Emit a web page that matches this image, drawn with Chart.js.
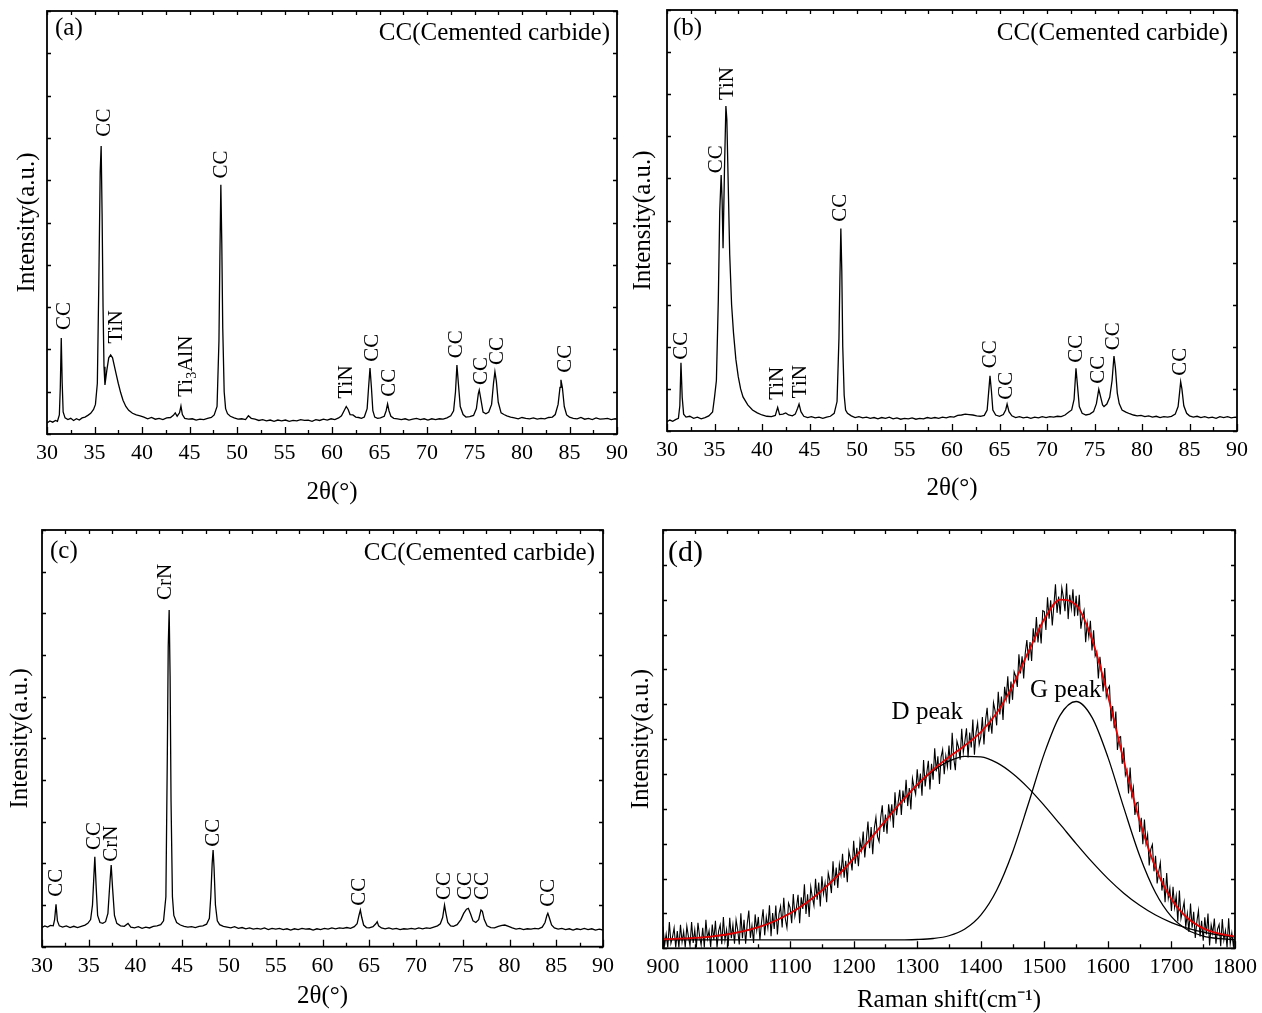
<!DOCTYPE html>
<html>
<head>
<meta charset="utf-8">
<script src="https://cdn.jsdelivr.net/npm/chart.js@4.4.1/dist/chart.umd.min.js"></script>
<style>
  html, body { margin: 0; padding: 0; background: #fff; overflow: hidden; }
  .panel { position: absolute; }
</style>
</head>
<body>
<div class="panel" style="left:0;top:0"><canvas id="chart-a" width="631" height="510"></canvas></div>
<div class="panel" style="left:631px;top:0"><canvas id="chart-b" width="631" height="510"></canvas></div>
<div class="panel" style="left:0;top:510px"><canvas id="chart-c" width="631" height="503"></canvas></div>
<div class="panel" style="left:631px;top:510px"><canvas id="chart-d" width="631" height="503"></canvas></div>
<script>
var serif = '"Liberation Serif", "Times New Roman", serif';

// XRD pattern (a): [2theta, intensity a.u.]
var patternA = [
    [30.0, 2.6], [30.3, 3.1], [30.6, 2.8], [30.9, 3.2], [31.1, 3.0], [31.3, 4.5], [31.4, 11.0], [31.5, 22.7],
    [31.6, 12.0], [31.7, 5.2], [31.9, 3.8], [32.2, 3.4], [32.5, 3.7], [32.8, 3.2], [33.1, 3.6], [33.4, 3.3],
    [33.7, 3.8], [34.0, 4.0], [34.3, 4.4], [34.6, 4.9], [34.9, 5.8], [35.1, 7.0], [35.3, 12.0], [35.45, 35.0],
    [35.6, 62.0], [35.7, 68.1], [35.8, 52.0], [35.9, 30.0], [36.0, 15.9], [36.1, 11.6], [36.3, 15.1], [36.5, 18.0],
    [36.7, 18.7], [36.9, 18.0], [37.1, 16.0], [37.3, 14.0], [37.5, 12.0], [37.75, 9.8], [38.0, 8.0], [38.3, 6.5],
    [38.6, 5.6], [39.0, 4.9], [39.4, 4.5], [39.8, 4.3], [40.2, 4.0], [40.6, 3.6], [41.0, 3.9], [41.4, 3.5],
    [41.8, 3.7], [42.2, 3.4], [42.6, 3.8], [43.0, 3.9], [43.3, 4.4], [43.5, 5.0], [43.7, 4.2], [43.95, 5.0],
    [44.1, 6.6], [44.25, 4.6], [44.5, 3.7], [44.9, 3.5], [45.3, 3.6], [45.7, 3.3], [46.1, 3.5], [46.5, 3.4],
    [46.9, 3.7], [47.3, 3.9], [47.6, 4.5], [47.9, 6.5], [48.1, 22.0], [48.2, 42.0], [48.3, 58.9], [48.4, 45.0],
    [48.5, 25.0], [48.65, 10.0], [48.8, 6.0], [49.0, 4.8], [49.3, 4.2], [49.7, 3.8], [50.1, 3.5], [50.5, 3.6],
    [50.9, 3.4], [51.2, 4.3], [51.5, 3.7], [51.9, 3.5], [52.3, 3.2], [52.7, 3.4], [53.1, 3.1], [53.5, 3.3],
    [53.9, 3.0], [54.3, 3.3], [54.7, 3.1], [55.1, 3.3], [55.5, 3.0], [55.9, 3.2], [56.3, 3.1], [56.7, 3.4],
    [57.1, 3.2], [57.5, 3.3], [57.9, 3.0], [58.3, 3.4], [58.7, 3.2], [59.1, 3.5], [59.5, 3.3], [59.9, 3.6],
    [60.3, 3.4], [60.7, 3.8], [61.0, 4.3], [61.3, 5.6], [61.5, 6.5], [61.7, 5.8], [61.9, 4.6], [62.2, 4.5],
    [62.5, 4.0], [62.8, 3.9], [63.1, 3.7], [63.4, 4.0], [63.7, 6.0], [63.85, 11.0], [64.0, 15.6], [64.15, 11.0],
    [64.3, 5.5], [64.5, 4.0], [64.8, 3.7], [65.1, 3.8], [65.5, 4.2], [65.7, 5.5], [65.85, 7.1], [66.0, 5.5],
    [66.2, 4.2], [66.5, 3.7], [66.9, 3.6], [67.3, 3.4], [67.7, 3.6], [68.1, 3.3], [68.5, 3.5], [68.9, 3.7],
    [69.3, 3.4], [69.7, 3.6], [70.1, 3.3], [70.5, 3.6], [70.9, 3.4], [71.3, 3.6], [71.7, 3.5], [72.1, 3.8],
    [72.5, 4.3], [72.8, 5.5], [73.0, 10.0], [73.15, 16.3], [73.3, 12.0], [73.5, 6.5], [73.8, 4.6], [74.1, 4.0],
    [74.5, 4.1], [74.9, 4.4], [75.2, 6.0], [75.4, 9.5], [75.5, 10.4], [75.65, 8.5], [75.9, 5.2], [76.2, 4.8],
    [76.5, 5.2], [76.8, 7.0], [77.0, 12.0], [77.15, 14.7], [77.3, 12.5], [77.5, 7.5], [77.8, 5.0], [78.1, 4.6],
    [78.4, 4.3], [78.8, 4.0], [79.2, 3.8], [79.6, 3.6], [80.0, 3.9], [80.4, 3.7], [80.8, 3.6], [81.2, 3.8],
    [81.6, 3.5], [82.0, 3.7], [82.4, 3.6], [82.8, 3.9], [83.2, 4.0], [83.5, 4.6], [83.8, 7.0], [84.0, 11.0],
    [84.1, 12.8], [84.25, 11.0], [84.45, 6.5], [84.7, 4.5], [85.0, 4.0], [85.4, 3.7], [85.8, 3.6], [86.2, 3.9],
    [86.6, 3.5], [87.0, 3.7], [87.4, 3.4], [87.8, 3.8], [88.2, 3.5], [88.6, 3.6], [89.0, 3.7], [89.4, 3.4],
    [89.8, 3.6], [90.0, 3.5]
];
// peak labels: [text, 2theta, intensity where the text starts]
var labelsA = [
    ['CC', 31.89, 24.6], ['CC', 36.1, 70.3], ['TiN', 37.34, 21.4], ['Ti_3AlN', 44.63, 8.8],
    ['CC', 48.39, 60.4], ['TiN', 61.55, 8.4], ['CC', 64.28, 17.1], ['CC', 66.1, 8.8],
    ['CC', 73.13, 17.9], ['CC', 75.76, 11.6], ['CC', 77.4, 16.3], ['CC', 84.53, 14.5]
];

// XRD pattern (b)
var patternB = [
    [30.0, 2.2], [30.3, 2.6], [30.6, 2.3], [30.9, 2.7], [31.2, 3.0], [31.35, 6.0], [31.47, 16.2], [31.6, 8.0],
    [31.75, 4.0], [32.0, 3.3], [32.4, 3.5], [32.8, 3.0], [33.2, 3.3], [33.6, 2.9], [34.0, 3.2], [34.4, 3.6],
    [34.8, 4.5], [35.0, 8.0], [35.2, 12.0], [35.4, 31.0], [35.55, 52.0], [35.7, 60.8], [35.8, 55.0], [35.9, 43.4],
    [36.05, 62.0], [36.2, 77.2], [36.3, 74.0], [36.45, 58.0], [36.6, 42.0], [36.8, 30.0], [37.0, 23.3], [37.25, 17.0],
    [37.5, 12.9], [37.75, 10.0], [38.0, 8.1], [38.5, 6.2], [39.0, 5.0], [39.5, 4.3], [40.0, 3.8], [40.5, 3.5],
    [41.0, 3.4], [41.4, 3.7], [41.65, 5.6], [41.85, 3.9], [42.2, 4.0], [42.5, 4.3], [42.8, 3.8], [43.2, 3.6],
    [43.5, 4.0], [43.75, 5.4], [43.9, 6.4], [44.1, 4.6], [44.4, 3.5], [44.8, 3.2], [45.2, 3.4], [45.6, 3.1],
    [46.0, 3.3], [46.4, 3.0], [46.8, 3.3], [47.2, 3.5], [47.6, 4.2], [47.9, 7.0], [48.1, 22.0], [48.2, 36.0],
    [48.3, 48.1], [48.4, 38.0], [48.5, 20.0], [48.65, 8.5], [48.8, 5.0], [49.0, 4.2], [49.4, 3.6], [49.8, 3.2],
    [50.2, 3.4], [50.6, 3.1], [51.0, 3.3], [51.4, 3.0], [51.8, 3.2], [52.2, 2.9], [52.6, 3.2], [53.0, 3.0],
    [53.4, 3.3], [53.8, 2.9], [54.2, 3.1], [54.6, 2.8], [55.0, 3.0], [55.4, 2.9], [55.8, 3.1], [56.2, 2.8],
    [56.6, 3.0], [57.0, 2.9], [57.4, 3.2], [57.8, 3.0], [58.2, 3.2], [58.6, 3.0], [59.0, 3.3], [59.4, 3.1],
    [59.8, 3.4], [60.2, 3.3], [60.6, 3.7], [61.0, 3.8], [61.4, 4.0], [61.8, 3.9], [62.2, 3.8], [62.6, 3.6],
    [63.0, 3.5], [63.4, 3.7], [63.7, 5.0], [63.85, 9.0], [64.0, 13.1], [64.15, 9.5], [64.3, 5.0], [64.6, 3.8],
    [65.0, 3.5], [65.4, 3.9], [65.65, 5.0], [65.8, 6.4], [66.0, 4.6], [66.3, 3.6], [66.7, 3.2], [67.1, 3.4],
    [67.5, 3.1], [67.9, 3.3], [68.3, 3.0], [68.7, 3.3], [69.1, 3.1], [69.5, 3.4], [69.9, 3.2], [70.3, 3.4],
    [70.7, 3.3], [71.1, 3.5], [71.5, 3.4], [71.9, 3.8], [72.3, 4.5], [72.6, 5.0], [72.85, 7.5], [73.05, 14.9],
    [73.2, 11.0], [73.4, 5.8], [73.7, 4.2], [74.1, 3.8], [74.5, 4.0], [74.9, 4.6], [75.2, 6.5], [75.45, 9.9],
    [75.6, 8.5], [75.85, 6.2], [76.0, 5.8], [76.3, 6.4], [76.6, 8.0], [76.85, 12.0], [77.05, 17.8], [77.2, 15.0],
    [77.4, 9.0], [77.6, 6.5], [77.9, 5.0], [78.3, 4.5], [78.7, 4.1], [79.1, 3.8], [79.5, 3.6], [79.9, 3.7],
    [80.3, 3.4], [80.7, 3.6], [81.1, 3.3], [81.5, 3.5], [81.9, 3.2], [82.3, 3.4], [82.7, 3.3], [83.1, 3.5],
    [83.5, 4.0], [83.8, 5.8], [83.95, 9.0], [84.07, 11.7], [84.2, 10.0], [84.4, 6.0], [84.7, 4.2], [85.0, 3.6],
    [85.4, 3.3], [85.8, 3.5], [86.2, 3.2], [86.6, 3.4], [87.0, 3.1], [87.4, 3.3], [87.8, 3.0], [88.2, 3.4],
    [88.6, 3.2], [89.0, 3.4], [89.4, 3.1], [89.8, 3.3], [90.0, 3.2]
];
var labelsB = [
    ['CC', 31.55, 16.9], ['CC', 35.23, 61.2], ['TiN', 36.35, 78.6], ['TiN', 41.61, 7.4],
    ['TiN', 44.1, 7.8], ['CC', 48.28, 49.7], ['CC', 64.0, 14.9], ['CC', 65.76, 7.4],
    ['CC', 73.13, 16.2], ['CC', 75.4, 11.2], ['CC', 76.98, 19.2], ['CC', 84.07, 13.1]
];

// XRD pattern (c)
var patternC = [
    [30.0, 4.6], [30.3, 5.0], [30.6, 4.7], [30.9, 5.1], [31.2, 5.0], [31.35, 6.5], [31.5, 10.2], [31.65, 6.2],
    [31.85, 5.0], [32.2, 4.7], [32.6, 5.0], [33.0, 4.6], [33.4, 4.9], [33.8, 4.6], [34.2, 4.9], [34.6, 5.2],
    [34.9, 5.6], [35.2, 6.5], [35.4, 10.0], [35.55, 17.0], [35.65, 21.6], [35.8, 14.0], [35.95, 7.5], [36.2, 5.8],
    [36.5, 5.6], [36.8, 6.0], [37.05, 8.0], [37.25, 15.0], [37.4, 19.6], [37.55, 14.0], [37.75, 7.5], [38.0, 5.6],
    [38.4, 5.0], [38.8, 4.9], [39.2, 5.6], [39.5, 4.7], [39.9, 4.5], [40.3, 4.8], [40.7, 4.4], [41.1, 4.7],
    [41.5, 4.5], [41.9, 4.9], [42.3, 5.0], [42.7, 5.3], [43.0, 6.2], [43.25, 12.0], [43.4, 45.0], [43.5, 72.0],
    [43.6, 80.8], [43.7, 65.0], [43.8, 35.0], [43.95, 12.0], [44.1, 7.5], [44.4, 5.8], [44.8, 5.2], [45.2, 4.9],
    [45.6, 4.7], [46.0, 4.8], [46.4, 4.6], [46.8, 4.9], [47.2, 5.0], [47.6, 5.4], [47.9, 6.8], [48.05, 12.0],
    [48.2, 20.0], [48.3, 23.2], [48.4, 19.0], [48.55, 10.0], [48.75, 6.2], [49.0, 5.3], [49.4, 4.9], [49.8, 4.7],
    [50.2, 4.5], [50.6, 4.8], [51.0, 4.4], [51.4, 4.6], [51.8, 4.3], [52.2, 4.5], [52.6, 4.2], [53.0, 4.4],
    [53.4, 4.2], [53.8, 4.5], [54.2, 4.1], [54.6, 4.4], [55.0, 4.2], [55.4, 4.4], [55.8, 4.1], [56.2, 4.3],
    [56.6, 4.0], [57.0, 4.3], [57.4, 4.1], [57.8, 4.4], [58.2, 4.2], [58.6, 4.3], [59.0, 4.0], [59.4, 4.3],
    [59.8, 4.1], [60.2, 4.4], [60.6, 4.2], [61.0, 4.5], [61.4, 4.3], [61.8, 4.5], [62.2, 4.4], [62.6, 4.6],
    [63.0, 4.4], [63.4, 4.8], [63.7, 5.5], [63.9, 7.5], [64.05, 8.8], [64.2, 7.0], [64.4, 5.2], [64.7, 4.6],
    [65.0, 4.5], [65.4, 4.8], [65.7, 5.5], [65.85, 6.0], [66.0, 5.0], [66.3, 4.5], [66.7, 4.3], [67.1, 4.5],
    [67.5, 4.2], [67.9, 4.4], [68.3, 4.1], [68.7, 4.3], [69.1, 4.2], [69.5, 4.4], [69.9, 4.2], [70.3, 4.5],
    [70.7, 4.3], [71.1, 4.5], [71.5, 4.4], [71.9, 4.7], [72.3, 5.0], [72.6, 5.5], [72.85, 7.0], [73.05, 10.0],
    [73.2, 8.0], [73.4, 5.8], [73.7, 5.0], [74.0, 4.9], [74.4, 5.3], [74.8, 6.5], [75.1, 8.0], [75.4, 9.0],
    [75.6, 9.2], [75.85, 7.8], [76.1, 6.2], [76.4, 5.8], [76.7, 6.5], [76.95, 8.8], [77.1, 8.5], [77.3, 6.5],
    [77.6, 5.0], [78.0, 4.6], [78.4, 4.5], [78.8, 4.9], [79.2, 5.1], [79.5, 5.2], [79.9, 4.9], [80.3, 4.5],
    [80.7, 4.2], [81.1, 4.4], [81.5, 4.1], [81.9, 4.3], [82.3, 4.2], [82.7, 4.4], [83.1, 4.3], [83.5, 4.7],
    [83.8, 5.8], [84.0, 7.5], [84.1, 8.0], [84.25, 7.0], [84.5, 5.2], [84.8, 4.5], [85.2, 4.2], [85.6, 4.4],
    [86.0, 4.1], [86.4, 4.3], [86.8, 4.0], [87.2, 4.3], [87.6, 4.1], [88.0, 4.4], [88.4, 4.1], [88.8, 4.3],
    [89.2, 4.0], [89.6, 4.2], [90.0, 4.0]
];
var labelsC = [
    ['CC', 31.53, 12.0], ['CC', 35.59, 23.2], ['CrN', 37.41, 20.4], ['CrN', 43.26, 83.2],
    ['CC', 48.29, 24.0], ['CC', 63.97, 9.8], ['CC', 73.06, 11.2], ['CC', 75.27, 11.2],
    ['CC', 77.06, 11.2], ['CC', 84.18, 9.6]
];

// Raman spectrum (d): measured counts every 2.5 cm-1 from 900 (one row = 25 cm-1)
var ramanStart = 900;
var ramanStep = 2.5;
var ramanCounts = [
    5.2, 0.7, 3.4, 0.2, 6.3, 1.2, 2.7, 4.9, 0.2, 4.1,
    0.2, 5.6, 1.5, 4.0, 0.2, 5.3, 2.8, 0.6, 6.3, 1.3,
    4.4, 0.2, 6.1, 2.9, 0.8, 4.9, 0.2, 6.8, 2.3, 4.2,
    0.3, 5.7, 2.0, 6.6, 0.2, 4.1, 5.6, 1.0, 7.5, 1.9,
    4.5, 0.5, 7.3, 2.4, 5.6, 1.1, 6.8, 4.4, 0.9, 8.4,
    2.4, 6.8, 1.1, 5.8, 9.0, 2.5, 5.4, 1.3, 8.1, 4.3,
    7.5, 2.0, 6.2, 9.3, 3.1, 7.5, 4.9, 10.3, 2.9, 8.4,
    4.6, 10.2, 3.3, 8.2, 10.0, 5.0, 12.1, 7.0, 4.9, 10.8,
    9.7, 6.0, 13.0, 7.7, 9.8, 12.8, 6.0, 12.2, 9.4, 15.3,
    8.2, 12.9, 7.5, 14.7, 12.2, 10.2, 16.6, 11.6, 15.7, 10.0,
    17.2, 13.0, 15.6, 11.0, 18.0, 16.2, 13.2, 20.8, 15.0, 19.3,
    14.4, 20.1, 17.6, 22.6, 16.9, 20.9, 15.8, 23.2, 21.4, 18.6,
    25.7, 20.2, 24.0, 19.6, 25.7, 23.4, 27.9, 21.7, 26.1, 30.3,
    23.9, 29.0, 22.5, 28.7, 31.3, 26.7, 25.5, 31.2, 34.2, 27.8,
    32.0, 27.4, 34.4, 31.2, 34.4, 28.8, 37.3, 31.8, 34.9, 37.9,
    31.9, 37.7, 34.8, 40.3, 34.0, 38.3, 33.2, 40.6, 38.4, 36.8,
    42.8, 38.2, 41.8, 36.5, 45.0, 38.7, 41.9, 44.8, 38.0, 44.1,
    40.3, 47.8, 42.3, 45.9, 39.3, 45.7, 47.5, 41.6, 46.0, 43.4,
    48.5, 42.7, 51.5, 45.4, 42.6, 49.5, 48.1, 45.1, 52.5, 46.8,
    49.5, 52.6, 45.6, 51.6, 48.0, 54.7, 46.3, 51.5, 53.9, 48.7,
    50.4, 55.3, 48.7, 54.5, 57.5, 51.8, 54.7, 51.3, 58.7, 56.8,
    53.3, 61.3, 55.9, 60.2, 54.6, 62.5, 59.7, 65.0, 58.5, 63.8,
    59.4, 66.1, 65.0, 62.5, 70.3, 65.7, 69.8, 64.5, 70.6, 73.7,
    68.8, 73.2, 68.7, 76.5, 73.1, 79.2, 73.1, 77.4, 72.9, 80.7,
    80.5, 76.1, 83.9, 78.8, 83.2, 77.2, 81.9, 87.0, 80.2, 84.1,
    79.8, 86.2, 83.9, 80.6, 87.2, 78.7, 84.5, 81.3, 85.8, 79.4,
    84.3, 79.5, 84.5, 76.4, 79.3, 80.8, 73.2, 77.7, 74.5, 78.3,
    71.2, 76.0, 69.9, 70.9, 64.5, 69.7, 66.0, 61.4, 67.0, 60.2,
    62.0, 62.7, 54.3, 57.9, 52.6, 56.6, 47.4, 50.4, 50.6, 44.1,
    48.0, 41.4, 42.6, 37.0, 43.2, 36.5, 38.5, 31.9, 34.7, 34.9,
    27.8, 31.2, 24.9, 30.8, 25.1, 27.2, 19.8, 23.7, 24.8, 18.4,
    22.1, 15.5, 18.3, 20.5, 13.8, 16.8, 11.0, 18.0, 12.0, 14.3,
    8.9, 14.7, 9.8, 12.5, 6.4, 13.8, 7.1, 9.1, 11.1, 5.1,
    8.3, 3.9, 10.7, 4.9, 8.7, 2.5, 6.4, 9.0, 2.8, 6.6,
    1.8, 7.4, 3.3, 8.3, 0.7, 5.6, 3.6, 7.1, 1.1, 4.6,
    5.7, 0.5, 7.0, 2.0, 4.2, 0.2, 7.2, 1.1, 3.7, 0.5,
    4.3
];
// fitted curves, read every 25 cm-1
var fitShift = [900, 925, 950, 975, 1000, 1025, 1050, 1075, 1100, 1125, 1150, 1175, 1200, 1225, 1250, 1275, 1300,
    1325, 1350, 1375, 1400, 1425, 1450, 1475, 1500, 1525, 1550, 1575, 1600, 1625, 1650, 1675, 1700, 1725, 1750, 1775, 1800];
var fitD = [2.16, 2.29, 2.49, 2.81, 3.30, 4.02, 5.05, 6.47, 8.37, 10.81, 13.84, 17.41, 21.49, 25.93, 30.53, 35.0, 39.05,
    42.39, 44.74, 45.9, 45.76, 44.37, 41.78, 38.3, 34.12, 29.61, 25.03, 20.65, 16.66, 13.18, 10.28, 7.95, 6.15, 4.82, 3.85, 3.18, 2.73];
var fitG = [2.0, 2.0, 2.0, 2.0, 2.0, 2.0, 2.0, 2.0, 2.0, 2.0, 2.0, 2.0, 2.0, 2.0, 2.01, 2.03, 2.10,
    2.34, 3.0, 4.6, 7.92, 13.87, 22.97, 34.6, 46.6, 55.75, 59.0, 55.2, 45.7, 33.62, 22.13, 13.28, 7.56, 4.42, 2.92, 2.31, 2.09];
var fitSum = [2.16, 2.29, 2.49, 2.81, 3.30, 4.02, 5.05, 6.47, 8.37, 10.81, 13.84, 17.41, 21.49, 25.93, 30.54, 35.03, 39.15,
    42.73, 45.74, 48.5, 51.68, 56.24, 62.75, 70.9, 78.72, 83.36, 82.03, 73.85, 60.36, 44.8, 30.41, 19.23, 11.71, 7.24, 4.77, 3.49, 2.82];

// Frame with inward ticks on all four sides
var framePlugin = {
    id: 'frame',
    afterDatasetsDraw: function (chart, args, opts) {
        var ctx = chart.ctx, a = chart.chartArea;
        var xs = chart.scales.x, ys = chart.scales.y;
        ctx.save();
        ctx.strokeStyle = '#000';
        ctx.lineWidth = 1.3;
        ctx.beginPath();
        for (var v = xs.min; v <= xs.max + 1e-6; v += opts.xMinor) {
            var px = Math.round(xs.getPixelForValue(v)) + 0.5;
            var r = v / opts.xMajor;
            var len = Math.abs(r - Math.round(r)) < 1e-6 ? 7 : 4;
            ctx.moveTo(px, a.bottom); ctx.lineTo(px, a.bottom - len);
            ctx.moveTo(px, a.top); ctx.lineTo(px, a.top + 4);
        }
        for (var w = ys.min; w <= ys.max + 1e-6; w += opts.yStep) {
            var py = Math.round(ys.getPixelForValue(w)) + 0.5;
            ctx.moveTo(a.left, py); ctx.lineTo(a.left + 4, py);
            ctx.moveTo(a.right, py); ctx.lineTo(a.right - 4, py);
        }
        ctx.stroke();
        ctx.lineWidth = 1.8;
        ctx.strokeRect(a.left, a.top, a.right - a.left, a.bottom - a.top);
        ctx.restore();
    }
};

// Panel letters, header text and rotated peak labels
var notePlugin = {
    id: 'notes',
    afterDraw: function (chart, args, opts) {
        var ctx = chart.ctx, a = chart.chartArea;
        var xs = chart.scales.x, ys = chart.scales.y;
        ctx.save();
        ctx.fillStyle = '#000';
        ctx.textBaseline = 'middle';
        ctx.textAlign = 'left';
        ctx.font = opts.letterSize + 'px ' + serif;
        ctx.fillText(opts.letter, a.left + opts.letterDx, a.top + opts.letterDy);
        if (opts.header) {
            ctx.textAlign = 'right';
            ctx.font = '25px ' + serif;
            ctx.fillText(opts.header, a.right - opts.headerDx, a.top + opts.headerDy);
        }
        (opts.texts || []).forEach(function (t) {
            ctx.textAlign = 'left';
            ctx.font = '25px ' + serif;
            ctx.fillText(t[0], xs.getPixelForValue(t[1]), ys.getPixelForValue(t[2]));
        });
        (opts.peaks || []).forEach(function (p) {
            var parts = p[0].split('_');
            ctx.save();
            ctx.translate(xs.getPixelForValue(p[1]), ys.getPixelForValue(p[2]));
            ctx.rotate(-Math.PI / 2);
            ctx.textAlign = 'left';
            ctx.font = '21px ' + serif;
            ctx.fillText(parts[0], 0, 0);
            if (parts.length > 1) {
                var off = ctx.measureText(parts[0]).width;
                ctx.font = '14px ' + serif;
                ctx.fillText(parts[1].charAt(0), off, 6);
                off += ctx.measureText(parts[1].charAt(0)).width;
                ctx.font = '21px ' + serif;
                ctx.fillText(parts[1].slice(1), off, 0);
            }
            ctx.restore();
        });
        ctx.restore();
    }
};

function toPoints(pairs) {
    return pairs.map(function (p) { return { x: p[0], y: p[1] }; });
}

function buildChart(id, datasets, p) {
    var canvas = document.getElementById(id);
    return new Chart(canvas.getContext('2d'), {
        type: 'line',
        data: { datasets: datasets },
        options: {
            responsive: false,
            animation: false,
            events: [],
            layout: { padding: { left: 0, right: p.padRight, top: p.padTop, bottom: 0 } },
            elements: { point: { radius: 0 } },
            plugins: {
                legend: { display: false },
                tooltip: { enabled: false },
                frame: { xMajor: p.xMajor, xMinor: p.xMajor / 2, yStep: p.yStep },
                notes: p.notes
            },
            scales: {
                x: {
                    type: 'linear',
                    min: p.xMin,
                    max: p.xMax,
                    afterFit: function (scale) { scale.height = p.xHeight; },
                    grid: { display: false },
                    border: { display: false },
                    ticks: {
                        stepSize: p.xMajor,
                        autoSkip: false,
                        maxRotation: 0,
                        padding: -2,
                        color: '#000',
                        font: { family: serif, size: 22 },
                        callback: function (value) { return String(value); }
                    },
                    title: {
                        display: true,
                        text: p.xTitle,
                        color: '#000',
                        padding: { top: 0, bottom: p.xTitlePad },
                        font: { family: serif, size: 25, lineHeight: 1 }
                    }
                },
                y: {
                    type: 'linear',
                    min: 0,
                    max: 100,
                    afterFit: function (scale) { scale.width = p.yWidth; },
                    grid: { display: false },
                    border: { display: false },
                    ticks: { display: false },
                    title: {
                        display: true,
                        text: 'Intensity(a.u.)',
                        color: '#000',
                        padding: { top: p.yTitlePad, bottom: 0 },
                        font: { family: serif, size: 25, lineHeight: 1 }
                    }
                }
            }
        },
        plugins: [framePlugin, notePlugin]
    });
}

function xrdLine(pairs) {
    return { data: toPoints(pairs), borderColor: '#000', borderWidth: 1.3, tension: 0 };
}

buildChart('chart-a', [xrdLine(patternA)], {
    padRight: 14, padTop: 11, yWidth: 47, xHeight: 76, yTitlePad: 15, xTitlePad: 5.5,
    xMin: 30, xMax: 90, xMajor: 5, yStep: 10, xTitle: '2\u03b8(\u00b0)',
    notes: { letter: '(a)', letterSize: 25, letterDx: 8, letterDy: 17,
        header: 'CC(Cemented carbide)', headerDx: 7, headerDy: 22, peaks: labelsA }
});

buildChart('chart-b', [xrdLine(patternB)], {
    padRight: 25, padTop: 10, yWidth: 36, xHeight: 79, yTitlePad: 0, xTitlePad: 9.5,
    xMin: 30, xMax: 90, xMajor: 5, yStep: 10, xTitle: '2\u03b8(\u00b0)',
    notes: { letter: '(b)', letterSize: 25, letterDx: 6, letterDy: 18,
        header: 'CC(Cemented carbide)', headerDx: 9, headerDy: 23, peaks: labelsB }
});

buildChart('chart-c', [xrdLine(patternC)], {
    padRight: 28, padTop: 20, yWidth: 42, xHeight: 66.3, yTitlePad: 7.5, xTitlePad: 4.5,
    xMin: 30, xMax: 90, xMajor: 5, yStep: 10, xTitle: '2\u03b8(\u00b0)',
    notes: { letter: '(c)', letterSize: 25, letterDx: 8, letterDy: 21,
        header: 'CC(Cemented carbide)', headerDx: 8, headerDy: 23, peaks: labelsC }
});

var ramanPoints = ramanCounts.map(function (v, i) { return { x: ramanStart + i * ramanStep, y: v }; });
function fitLine(values, color, width, order) {
    return {
        data: values.map(function (v, i) { return { x: fitShift[i], y: v }; }),
        borderColor: color, borderWidth: width, cubicInterpolationMode: 'monotone', order: order
    };
}
// lower order is drawn on top: the red sum lies over the measured spectrum
buildChart('chart-d', [
    { data: ramanPoints, borderColor: '#000', borderWidth: 1.1, tension: 0, order: 3 },
    fitLine(fitD, '#000', 1.3, 2),
    fitLine(fitG, '#000', 1.3, 1),
    fitLine(fitSum, '#e60000', 1.8, 0)
], {
    padRight: 27, padTop: 20, yWidth: 32, xHeight: 64.7, yTitlePad: -2.5, xTitlePad: 0.5,
    xMin: 900, xMax: 1800, xMajor: 100, yStep: 100 / 12, xTitle: 'Raman shift(cm\u207b\u00b9)',
    notes: { letter: '(d)', letterSize: 30, letterDx: 5, letterDy: 23,
        texts: [['D peak', 1259.7, 56.5], ['G peak', 1477.5, 61.7]] }
});
</script>
</body>
</html>
